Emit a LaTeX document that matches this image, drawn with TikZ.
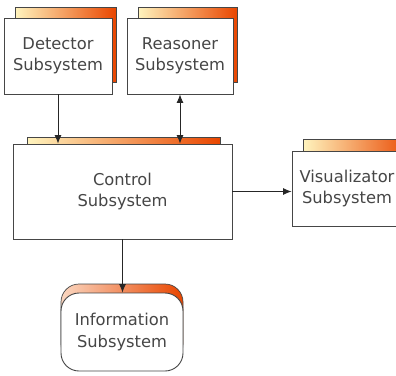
\documentclass[tikz,border=0pt]{standalone}
\usepackage{fontspec}
\setmainfont{DejaVu Sans}
\usetikzlibrary{arrows.meta,positioning,calc}
\definecolor{tabA}{RGB}{255,244,190}
\definecolor{tabB}{RGB}{233,70,0}
\definecolor{edge}{RGB}{70,70,70}
\definecolor{ink}{RGB}{70,70,70}

\tikzset{
  subsys/.style={draw=edge,fill=white,line width=0.9pt,inner sep=0pt,align=center,
    text=ink,font=\fontsize{16.3}{21.5}\selectfont},
  tab/.style={draw=edge,line width=0.7pt,inner sep=0pt,left color=tabA,right color=tabB},
  link/.style={draw=black!85,line width=0.9pt,-{Latex[length=8.5pt,width=7pt]}},
}

\begin{document}
\begin{tikzpicture}[x=1pt,y=-1pt]
    \useasboundingbox (0,0) rectangle (396,375);
    % shaded tabs behind the boxes
    \foreach \nm/\cx/\cy/\w/\h in {
      dettab/65.5/44.5/101/75,
      rsntab/187.5/44.5/99/75,
      ctltab/123.5/185/193/95,
      vistab/358/176.5/110/75}{
      \node[tab,minimum width=\w,minimum height=\h] (\nm) at (\cx,\cy) {};
    }
    \node[tab,rounded corners=18pt,minimum width=122,minimum height=78,
      left color=tabA!40!tabB!35] (inftab) at (122,323) {};

    \node[subsys,minimum width=108,minimum height=76] (det) at (58,56) {Detector\\Subsystem};
    \node[subsys,minimum width=106,minimum height=76] (rsn) at (180,56) {Reasoner\\Subsystem};
    \node[subsys,minimum width=219,minimum height=95] (ctl) at (122.5,191.5) {Control\\Subsystem};
    \node[subsys,minimum width=110,minimum height=75] (vis) at (347,188.5) {Visualizator\\Subsystem};
    \node[subsys,rounded corners=18pt,minimum width=122,minimum height=78] (inf) at (122,332) {Information\\Subsystem};

    \draw[link] (det.south) -- (det.south |- ctl.north);
    \draw[link,{Latex[length=8.5pt,width=7pt]}-{Latex[length=8.5pt,width=7pt]}] (rsn.south) -- (rsn.south |- ctl.north);
    \draw[link] (ctl.east) -- (ctl.east -| vis.west);
    \draw[link] (ctl.south) -- (ctl.south |- inf.north);
\end{tikzpicture}
\end{document}
